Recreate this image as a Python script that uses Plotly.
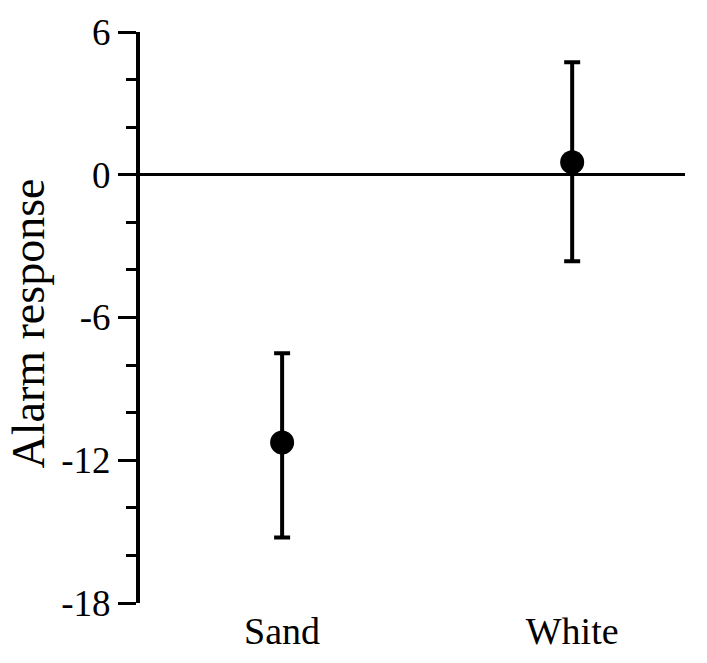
import plotly.graph_objects as go

categories = ["Sand", "White"]
means = [-11.25, 0.53]
err_plus = [3.75, 4.2]
err_minus = [4.0, 4.17]
y_tickvals = [-18, -12, -6, 0, 6]
y_ticktext = ["-18", "-12", "-6", "0", "6"]

FONT = "Liberation Serif"

fig = go.Figure()
fig.add_trace(go.Scatter(
    x=categories, y=means, mode="markers",
    marker=dict(size=24, color="black"),
    error_y=dict(type="data", symmetric=False, array=err_plus, arrayminus=err_minus,
                 color="black", thickness=4, width=8),
    showlegend=False,
))

fig.update_layout(
    width=707, height=663,
    margin=dict(l=140, r=22, t=32, b=60),
    paper_bgcolor="white", plot_bgcolor="white",
    font=dict(family=FONT, color="black"),
    xaxis=dict(
        type="category", range=[-0.49, 1.389],
        showline=False, showgrid=False, zeroline=False, ticks="",
        tickfont=dict(size=38, family=FONT, color="black"),
        ticklabelstandoff=2,
    ),
    yaxis=dict(
        range=[-18, 6], tickvals=y_tickvals, ticktext=y_ticktext,
        showline=True, linecolor="black", linewidth=4,
        ticks="outside", ticklen=18, tickwidth=3, tickcolor="black",
        showgrid=False,
        zeroline=True, zerolinecolor="black", zerolinewidth=3,
        tickfont=dict(size=37, family=FONT, color="black"),
        minor=dict(dtick=2, tick0=0, ticks="outside", ticklen=10, tickwidth=3,
                   tickcolor="black", showgrid=False),
    ),
    annotations=[dict(
        text="Alarm response", textangle=-90, showarrow=False,
        xref="paper", yref="paper", x=-0.205, y=0.49,
        xanchor="center", yanchor="middle",
        font=dict(size=46, family=FONT, color="black"),
    )],
)

fig.write_html("out.html")
